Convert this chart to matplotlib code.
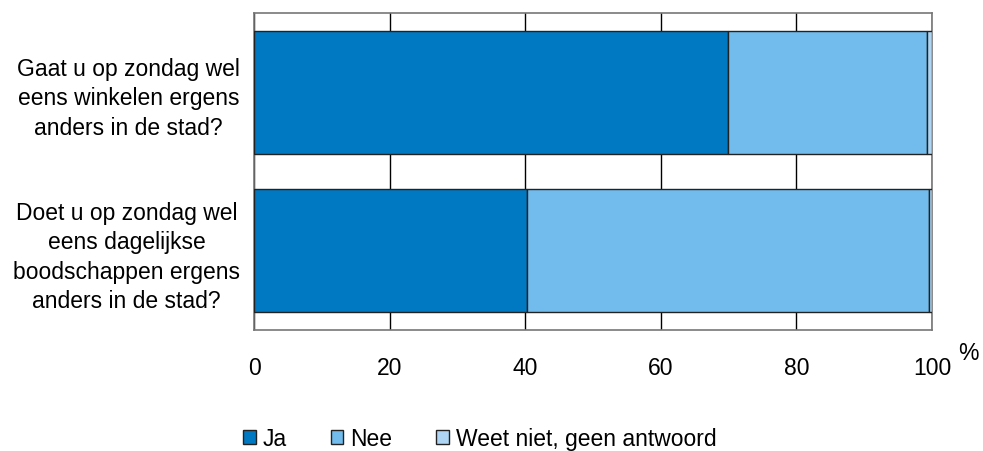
import matplotlib.pyplot as plt
import numpy as np

plt.rcParams['font.family'] = ['Liberation Sans', 'DejaVu Sans']

# data (percentages), top question first
questions = ["Gaat u op zondag wel\neens winkelen ergens\nanders in de stad?",
             "Doet u op zondag wel\neens dagelijkse\nboodschappen ergens\nanders in de stad?"]
ja = [69.9, 40.2]
nee = [29.4, 59.4]
weet_niet = [0.7, 0.4]
series_names = ["Ja", "Nee", "Weet niet, geen antwoord"]
colors = ["#0179C2", "#71BCEC", "#AED6F4"]
xticks = [0, 20, 40, 60, 80, 100]

fs = 16.5

fig = plt.figure(figsize=(9.83, 4.52), dpi=100)
ax = fig.add_axes([0.2584, 0.2677, 0.6898, 0.7013])

y = np.arange(len(questions))
left = np.zeros(len(questions))
for vals, name, c in zip([ja, nee, weet_niet], series_names, colors):
    ax.barh(y, vals, left=left, height=0.775, color=c, edgecolor="#222222",
            linewidth=1.0, label=name, zorder=3)
    left += np.array(vals)

ax.set_xlim(0, 100)
ax.set_ylim(1.5, -0.5)
ax.set_xticks(xticks)
ax.set_yticks(y)
ax.set_yticklabels(questions, fontsize=fs, linespacing=1.36, multialignment="center")
ax.tick_params(axis='x', length=0, pad=19, labelsize=fs)
ax.tick_params(axis='y', length=0, pad=10)
ax.xaxis.grid(True, color="black", linewidth=1.0, zorder=0)
ax.set_axisbelow(True)
for s in ax.spines.values():
    s.set_color("#777777")
    s.set_linewidth(1.2)

fig.text(0.985, 0.218, "%", fontsize=fs, ha="center", va="center")

fig.legend(loc="center", bbox_to_anchor=(0.488, 0.028), ncol=3, frameon=False,
           fontsize=fs, handlelength=0.56, handleheight=0.56, handletextpad=0.3,
           columnspacing=1.9, borderpad=0.2)

fig.savefig("out.png", dpi=100)
